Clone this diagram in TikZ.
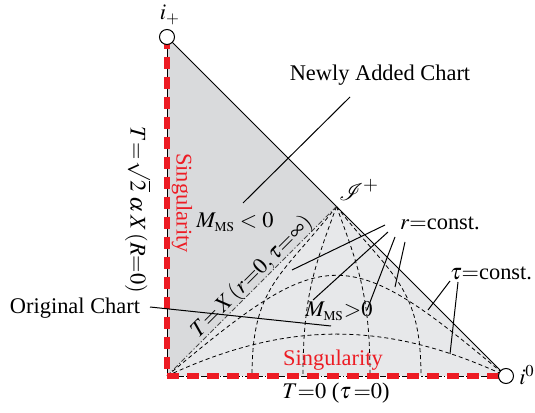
\documentclass[tikz,border=0pt]{standalone}
\usepackage{mathptmx}
\usepackage{mathrsfs}
\usepackage{fontspec}
\setmainfont{Liberation Serif}

\definecolor{chartgray}{RGB}{217,218,220}
\definecolor{origgray}{RGB}{231,232,234}
\definecolor{singred}{RGB}{237,28,36}

\begin{document}
\begin{tikzpicture}[x=0.5pt, y=0.5pt,
  lbl/.style={font=\fontsize{11.2}{13.4}\selectfont, inner sep=1pt},
  redlbl/.style={lbl, text=singred},
  pointer/.style={line width=0.5pt},
  coordline/.style={line width=0.4pt, dash pattern=on 2pt off 1.5pt},
  nullline/.style={line width=0.45pt, gray!55!black, dash pattern=on 2.5pt off 1pt on 0.6pt off 1pt},
  singular/.style={singred, line width=2.6pt, dash pattern=on 6pt off 4pt},
  infpoint/.style={circle, draw, fill=white, line width=0.5pt, minimum size=7.5pt, inner sep=0pt}
]
\useasboundingbox (0,0) rectangle (535,412);

% corners of the diagram
\coordinate (ip) at (167,375);
\coordinate (O) at (167,36);
\coordinate (izero) at (506,36);
\coordinate (J) at (336.5,205.5);

% the two charts
\fill[chartgray] (ip) -- (O) -- (J) -- cycle;
\fill[origgray] (O) -- (J) -- (izero) -- cycle;

% r = const. curves
\coordinate (b1) at (252,36);
\coordinate (b2) at (303,36);
\coordinate (b3) at (370,36);
\coordinate (b4) at (421,36);
\draw[coordline] (J) .. controls +(-55,-70) and +(0,90) .. (b1);
\draw[coordline] (J) .. controls +(-22,-60) and +(0,80) .. (b2);
\draw[coordline] (J) .. controls +(22,-60) and +(0,80) .. (b3);
\draw[coordline] (J) .. controls +(55,-70) and +(0,90) .. (b4);

% tau = const. curves
\draw[coordline] (O) to[out=40, in=140, looseness=1.58] (izero);
\draw[coordline] (O) to[out=25, in=155] (izero);

% boundaries
\draw[line width=0.5pt] (ip) -- (izero);
\draw[nullline] (O) -- (J);
\draw[line width=0.5pt] (O) -- (ip);
\draw[line width=0.4pt, dash pattern=on 3pt off 1pt on 0.6pt off 1pt] (O) -- (izero);
\draw[singular] (ip) -- (O);
\draw[singular] (O) -- (izero);

% labels
\node[lbl] (newly) at (380,337) {Newly Added Chart};
\node[lbl] (mneg) at (235,190) {$M_{\scriptscriptstyle\mathrm{MS}} < 0$};
\node[lbl, font=\fontsize{13}{15}\selectfont] (scri) at (359,222) {$\mathscr{I}^{+}$};
\node[lbl] (rconst) at (440,189) {$r{=}$const.};
\node[lbl] (tauconst) at (491,139) {$\tau{=}$const.};
\node[lbl] (mpos) at (339,101) {$M_{\scriptscriptstyle\mathrm{MS}}{>}0$};
\node[lbl] (original) at (75,104) {Original Chart};
\node[redlbl] (singh) at (333,52) {Singularity};
\node[redlbl, rotate=-90] (singv) at (182,209) {Singularity};
\node[lbl, rotate=-90] (tsqrt) at (138,202) {$T{=}\,\sqrt{2}\;\alpha\,X\,(R{=}0)$};
\node[lbl, rotate=45] (tx) at (252,135) {$T{=}\,X\,(r{=}0,\tau{=}\infty)$};
\node[lbl] (tzero) at (336,19) {$T{=}0$ ($\tau\,{=}0$)};
\node[lbl] (iplbl) at (170,397) {$i_+$};
\node[lbl] (izlbl) at (527,37) {$i^0$};

% pointers
\coordinate (newlytip) at (350,315);
\coordinate (newlyend) at (243,209);
\draw[pointer] (newlytip) -- (newlyend);
\coordinate (origtip) at (150,105);
\coordinate (origend) at (331,86);
\draw[pointer] (origtip) -- (origend);
\coordinate (ra) at (385,187);
\coordinate (rb) at (388,180);
\coordinate (rc) at (395,175);
\coordinate (rd) at (405,170);
\coordinate (raend) at (292,142);
\coordinate (rbend) at (313,112);
\coordinate (rcend) at (367,102);
\coordinate (rdend) at (395,125);
\draw[pointer] (ra) -- (raend);
\draw[pointer] (rb) -- (rbend);
\draw[pointer] (rc) -- (rcend);
\draw[pointer] (rd) -- (rdend);
\coordinate (te) at (450,131);
\coordinate (tf) at (458,130);
\coordinate (teend) at (428,102);
\coordinate (tfend) at (450,58);
\draw[pointer] (te) -- (teend);
\draw[pointer] (tf) -- (tfend);

% points at infinity
\node[infpoint] (iplus) at (ip) {};
\node[infpoint] (izpt) at (izero) {};

\end{tikzpicture}
\end{document}
